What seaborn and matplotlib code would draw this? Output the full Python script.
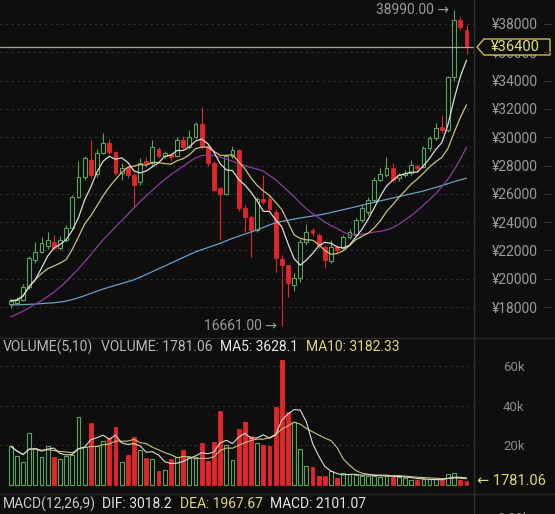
import numpy as np
import pandas as pd
import matplotlib
matplotlib.use("Agg")
import matplotlib.pyplot as plt
from matplotlib.lines import Line2D
from matplotlib.patches import Polygon
import seaborn as sns

# daily candles (left -> right)
opens = [18200, 18300, 18500, 19400, 21300, 21900, 22300, 22600, 22200, 22750,
         23600, 25800, 27200, 28400, 27400, 28900, 29600, 28950, 27450, 27900,
         27300, 26800, 28300, 28200, 29200, 28700, 28800, 28700, 29800, 29300,
         30000, 30900, 29350, 28150, 26400, 26000, 28700, 29100, 25000, 24350,
         23450, 25600, 25600, 24700, 21400, 20950, 19550, 20050, 22600, 23450,
         23100, 22250, 21250, 22250, 22150, 22950, 23100, 24150, 24700, 25550,
         26975, 27330, 27820, 27100, 27350, 27470, 28000, 27900, 29230, 29940,
         30700, 30500, 34250, 38280, 37600]
highs = [18600, 18700, 19600, 21600, 22600, 22950, 23300, 23100, 23000, 23800,
         25900, 28300, 28700, 29800, 29200, 30300, 29900, 29000, 28200, 28000,
         27500, 28500, 28600, 29800, 29300, 29000, 28900, 30000, 30100, 30500,
         31100, 32100, 29500, 28300, 26500, 28800, 29400, 29200, 25200, 24500,
         25800, 27300, 26000, 24900, 21700, 21000, 20400, 22800, 23900, 23600,
         23200, 22400, 22700, 22400, 23100, 23500, 24300, 25200, 25800, 27200,
         27800, 28600, 28200, 27500, 27700, 28400, 28100, 29400, 30100, 31000,
         31600, 34300, 38990, 38500, 37900]
lows = [17950, 18200, 18400, 19300, 21100, 21800, 22100, 22000, 22000, 22600,
        23500, 25700, 27000, 27100, 27200, 28800, 28800, 27300, 27000, 27100,
        25100, 26600, 27900, 28000, 28500, 28500, 28300, 28600, 29200, 29200,
        29900, 29200, 28000, 26100, 22700, 25900, 28500, 24800, 23300, 21500,
        23300, 25300, 24700, 20500, 16661, 18700, 19100, 19800, 22400, 23000,
        22200, 20750, 21100, 21800, 22000, 22800, 23000, 24000, 24500, 25400,
        26900, 27200, 26800, 26900, 27200, 27300, 27600, 27800, 29000, 29800,
        30300, 30400, 34000, 37600, 35900]
closes = [18450, 18500, 19400, 21450, 21900, 22500, 22750, 22200, 22750, 23600,
          25800, 27200, 28500, 27300, 28900, 29600, 28950, 27450, 27800, 27300,
          26600, 28200, 28150, 29300, 28700, 28900, 28600, 29800, 29300, 30000,
          30900, 29350, 28150, 26250, 26000, 28700, 29100, 25000, 24350, 23450,
          25600, 25450, 24900, 21470, 20950, 19700, 20050, 22600, 23300, 23250,
          22400, 21300, 22250, 22000, 22950, 23300, 24150, 25000, 25550, 27000,
          27400, 27820, 26970, 27330, 27500, 28030, 27800, 29230, 29940, 30650,
          30500, 34250, 38280, 37800, 36400]
volumes = [19580, 14850, 11820, 26330, 18740, 14010, 19920, 14350, 13000, 14690,
           15360, 34270, 19070, 31230, 19580, 22110, 23630, 29540, 11820, 15360,
           24480, 17720, 13500, 13170, 6920, 7600, 13170, 14350, 17720, 14350,
           14010, 21100, 11980, 21940, 37640, 20420, 12660, 28190, 32070, 24980,
           21440, 20260, 19750, 39670, 63000, 36800, 31730, 18230, 9790, 8950,
           4730, 4730, 6920, 3380, 6080, 5570, 5000, 4700, 4500, 4800,
           4300, 4600, 3900, 4000, 3600, 2700, 2300, 2900, 2800, 2982.7,
           2400, 5600, 5900, 2459.5, 1781.06]
ma30 = [17300, 17500, 17700, 17950, 18200, 18450, 18750, 19050, 19400, 19800,
        20250, 20700, 21200, 21700, 22250, 22750, 23200, 23650, 24100, 24550,
        25000, 25450, 25850, 26250, 26650, 27000, 27350, 27650, 27950, 28250,
        28550, 28700, 28750, 28700, 28600, 28450, 28300, 28150, 28000, 27850,
        27750, 27600, 27300, 27000, 26600, 26200, 25800, 25350, 24950, 24600,
        24300, 24000, 23750, 23550, 23300, 23100, 23100, 23150, 23200, 23300,
        23350, 23450, 23600, 23850, 24150, 24450, 24800, 25200, 25600, 26000,
        26500, 27050, 27700, 28450, 29300]
ma60 = [18140, 18150, 18170, 18190, 18210, 18240, 18270, 18300, 18350, 18420,
        18530, 18650, 18800, 18960, 19120, 19270, 19400, 19530, 19660, 19790,
        19920, 20100, 20300, 20500, 20700, 20900, 21100, 21300, 21500, 21700,
        21900, 22050, 22200, 22350, 22500, 22680, 22850, 23000, 23150, 23300,
        23450, 23620, 23800, 23950, 24050, 24130, 24210, 24290, 24360, 24430,
        24500, 24580, 24680, 24780, 24880, 24980, 25080, 25190, 25300, 25400,
        25500, 25600, 25700, 25800, 25900, 26000, 26100, 26200, 26330, 26450,
        26580, 26720, 26860, 26990, 27100]
price_ticks = [18000, 20000, 22000, 24000, 26000, 28000, 30000, 32000, 34000, 36000, 38000]
vol_ticks = [20000, 40000, 60000]
vol_tick_labels = ["20k", "40k", "60k"]

BG = "#0e0e0e"
UP = "#5aa45c"
DOWN = "#e3262a"
GRID = "#343434"
LABEL = "#9a9a9a"
YEL = "#dcd77a"

sns.set_theme(style="dark", rc={"axes.facecolor": BG, "figure.facecolor": BG,
                                "axes.edgecolor": BG, "axes.grid": False})
plt.rcParams["font.family"] = ["Roboto", "DejaVu Sans"]

df = pd.DataFrame({"idx": np.arange(len(closes)), "open": opens, "high": highs,
                   "low": lows, "close": closes, "vol": volumes,
                   "ma30": ma30, "ma60": ma60})
df["ma5"] = df["close"].rolling(5, min_periods=1).mean()
df["ma10"] = df["close"].rolling(10, min_periods=1).mean()
df["vma5"] = df["vol"].rolling(5, min_periods=1).mean()
df["vma10"] = df["vol"].rolling(10, min_periods=1).mean()
df["up"] = df["close"] >= df["open"]

W, H = 555, 514
fig = plt.figure(figsize=(W / 100, H / 100), dpi=100, facecolor=BG)
ax = fig.add_axes([0, 1 - 337 / H, 474 / W, 337 / H])
axv = fig.add_axes([0, 20 / H, 474 / W, 157 / H])

xlim = (-1.74, 75.21)
bw = 0.62

# ---- price panel ----
for t in price_ticks:
    ax.axhline(t, color=GRID, lw=0.8, ls=(0, (2, 3)), zorder=0)

up = df[df["up"]]
dn = df[~df["up"]]
body_lo = np.minimum(df["open"], df["close"])
body_hi = np.maximum(df["open"], df["close"])
wick_c = np.where(df["up"], UP, DOWN)
ax.vlines(df["idx"], df["low"], body_lo, color=wick_c, lw=0.8, zorder=2)
ax.vlines(df["idx"], body_hi, df["high"], color=wick_c, lw=0.8, zorder=2)
ax.bar(up["idx"], np.maximum(up["close"] - up["open"], 60), bottom=up["open"], width=bw,
       facecolor=BG, edgecolor=UP, linewidth=0.8, zorder=3)
ax.bar(dn["idx"], np.maximum(dn["open"] - dn["close"], 60), bottom=dn["close"], width=bw,
       facecolor=DOWN, edgecolor=DOWN, linewidth=0.6, zorder=3)

for col, c in [("ma60", "#6f9cc4"), ("ma30", "#8c3d9e"), ("ma10", "#c9c277"), ("ma5", "#dcdcd4")]:
    sns.lineplot(data=df, x="idx", y=col, ax=ax, color=c, linewidth=0.9, legend=False, zorder=4)

ax.axhline(closes[-1], color="#a8a890", lw=0.9, zorder=5)
ax.set_xlim(*xlim)
ax.set_ylim(15880, 39696)
ax.yaxis.tick_right()
ax.set_yticks(price_ticks)
ax.set_yticklabels([f"¥{t}" for t in price_ticks])
ax.tick_params(axis="y", length=0, pad=12.7, labelcolor=LABEL, labelsize=10)
ax.set_xticks([])
ax.set_xlabel("")
ax.set_ylabel("")
for s in ax.spines.values():
    s.set_visible(False)

hi_i = int(np.argmax(highs))
lo_i = int(np.argmin(lows))
ax.annotate(f"{highs[hi_i]:.2f} →", xy=(hi_i - 0.8, highs[hi_i]), ha="right", va="center",
            color=LABEL, fontsize=10)
ax.annotate(f"{lows[lo_i]:.2f} →", xy=(lo_i - 0.8, lows[lo_i]), ha="right", va="center",
            color=LABEL, fontsize=10)

# ---- volume panel ----
for t in vol_ticks:
    axv.axhline(t, color=GRID, lw=0.8, ls=(0, (2, 3)), zorder=0)
axv.bar(up["idx"], up["vol"], width=bw, facecolor=BG, edgecolor=UP, linewidth=0.8, zorder=2)
axv.bar(dn["idx"], dn["vol"], width=bw, facecolor=DOWN, edgecolor=DOWN, linewidth=0.6, zorder=2)
sns.lineplot(data=df, x="idx", y="vma10", ax=axv, color="#c9c277", linewidth=0.8, legend=False, zorder=3)
sns.lineplot(data=df, x="idx", y="vma5", ax=axv, color="#dcdcd4", linewidth=0.8, legend=False, zorder=3)
axv.set_xlim(*xlim)
axv.set_ylim(-4554, 74890)
axv.yaxis.tick_right()
axv.set_yticks(vol_ticks)
axv.set_yticklabels(vol_tick_labels)
axv.tick_params(axis="y", length=0, pad=21, labelcolor="#8a8a8a", labelsize=9.5)
axv.set_xticks([])
axv.set_xlabel("")
axv.set_ylabel("")
for s in axv.spines.values():
    s.set_visible(False)

# ---- separators ----
fig.add_artist(Line2D([474 / W, 474 / W], [0, 1], color="#2e2e2e", lw=1))
fig.add_artist(Line2D([0, 1], [1 - 337.5 / H] * 2, color="#2a2a2a", lw=1))
fig.add_artist(Line2D([0, 1], [1 - 494 / H] * 2, color="#2a2a2a", lw=1))
for t in price_ticks:
    yf = 1 - (24 + (38000 - t) * 0.01415) / H
    fig.add_artist(Line2D([544 / W, 551 / W], [yf, yf], color=GRID, lw=0.8))


# ---- texts ----
def ftext(x, y, s, color, size=10, **kw):
    fig.text(x / W, 1 - y / H, s, color=color, fontsize=size, va="center", ha="left", **kw)


ftext(3, -6.5, "MA(5,10,30,60)", "#bdbdbd")
ftext(3, 347, "VOLUME(5,10)", "#b8b8b8")
ftext(101, 347, f"VOLUME: {volumes[-1]:.2f}", "#b8b8b8")
ftext(220, 347, f"MA5: {df['vma5'].iloc[-1]:.1f}", "#e6e6e6")
ftext(306, 347, f"MA10: {df['vma10'].iloc[-1]:.2f}", YEL)
ftext(3, 504, "MACD(12,26,9)", "#c8c8c8")
ftext(102, 504, "DIF: 3018.2", "#e6e6e6")
ftext(180, 504, "DEA: 1967.67", YEL)
ftext(270, 504, "MACD: 2101.07", "#e6e6e6")
ftext(497, 519, "2.00k", "#8a8a8a", size=9.5)

# current price tag with a chevron on its left side
tag = [(477, 47), (484, 39), (550, 39), (550, 55), (484, 55)]
fig.add_artist(Polygon([(x / W, 1 - y / H) for x, y in tag], closed=True,
                       facecolor=BG, edgecolor="#c8c050", lw=1))
ftext(491, 47, f"¥{closes[-1]}", "#e8e070", size=10.5)
ftext(477, 481, f"← {volumes[-1]:.2f}", YEL, size=10.5)

fig.savefig("out.png", dpi=100, facecolor=BG)
